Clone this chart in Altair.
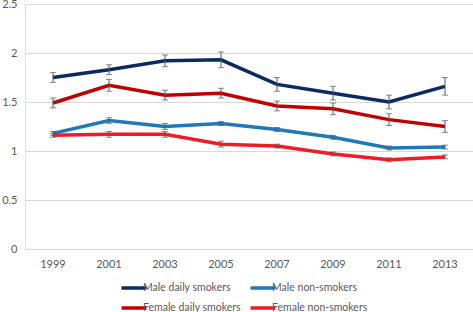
import altair as alt
import pandas as pd

years = ["1999", "2001", "2003", "2005", "2007", "2009", "2011", "2013"]
series = ["Male daily smokers", "Male non-smokers", "Female daily smokers", "Female non-smokers"]
colors = ["#0b2a5f", "#1f78b8", "#c00000", "#ee1c25"]

male_daily = [1.75, 1.83, 1.92, 1.93, 1.68, 1.59, 1.50, 1.66]
male_daily_err = [0.05, 0.05, 0.06, 0.08, 0.07, 0.07, 0.07, 0.09]
male_non = [1.18, 1.31, 1.25, 1.28, 1.22, 1.14, 1.03, 1.04]
male_non_err = [0.02, 0.03, 0.03, 0.02, 0.02, 0.02, 0.02, 0.02]
female_daily = [1.49, 1.67, 1.57, 1.59, 1.46, 1.43, 1.32, 1.25]
female_daily_err = [0.05, 0.06, 0.05, 0.05, 0.05, 0.06, 0.06, 0.06]
female_non = [1.16, 1.17, 1.17, 1.07, 1.05, 0.97, 0.91, 0.94]
female_non_err = [0.02, 0.03, 0.03, 0.03, 0.02, 0.02, 0.02, 0.02]

vals = [male_daily, male_non, female_daily, female_non]
errs = [male_daily_err, male_non_err, female_daily_err, female_non_err]
rows = []
for s, v, e in zip(series, vals, errs):
    for y, a, b in zip(years, v, e):
        rows.append({"year": y, "series": s, "value": a, "lo": a - b, "hi": a + b})
df = pd.DataFrame(rows)

FONT = "Lato"
GREY = "#595959"

x = alt.X("year:N", sort=years, title=None,
          scale=alt.Scale(paddingInner=0, paddingOuter=0),
          axis=alt.Axis(labelAngle=0, ticks=False, domain=True, domainColor="#d9d9d9",
                        labelPadding=9, labelFontSize=11, labelColor=GREY, labelFont=FONT,
                        grid=False))
yscale = alt.Scale(domain=[0, 2.5], nice=False)

lines = alt.Chart(df).mark_line(strokeWidth=3.5).encode(
    x=x,
    y=alt.Y("value:Q", scale=yscale, title=None,
            axis=alt.Axis(values=[0, 0.5, 1, 1.5, 2, 2.5], ticks=False, domain=False,
                          format=".1~f",
                          gridColor="#d9d9d9", labelColor=GREY, labelFont=FONT,
                          labelFontSize=11, labelPadding=8)),
    color=alt.Color("series:N", sort=series,
                    scale=alt.Scale(domain=series, range=colors),
                    legend=alt.Legend(title=None, orient="none", legendX=101, legendY=276,
                                      columns=2, symbolType="M-2,0L2,0", symbolSize=156,
                                      symbolStrokeWidth=3.5, labelFont=FONT, labelFontSize=10.5,
                                      labelColor=GREY, labelOffset=1, columnPadding=2,
                                      rowPadding=5, direction="horizontal")),
    order=alt.Order("year:N"),
)

rules = alt.Chart(df).mark_rule(color=GREY, strokeWidth=1).encode(
    x=x, y=alt.Y("lo:Q", scale=yscale), y2="hi:Q")
cap_lo = alt.Chart(df).mark_tick(color=GREY, size=6, thickness=1).encode(
    x=x, y=alt.Y("lo:Q", scale=yscale))
cap_hi = alt.Chart(df).mark_tick(color=GREY, size=6, thickness=1).encode(
    x=x, y=alt.Y("hi:Q", scale=yscale))

chart = alt.layer(lines, rules, cap_lo, cap_hi).properties(
    width=448, height=245,
    autosize=alt.AutoSizeParams(type="none"),
    padding={"left": 25, "top": 4, "right": 0, "bottom": 63},
).configure_view(stroke=None).configure(background="white")

chart.save("out.html", embed_options={"renderer": "svg", "actions": False})
